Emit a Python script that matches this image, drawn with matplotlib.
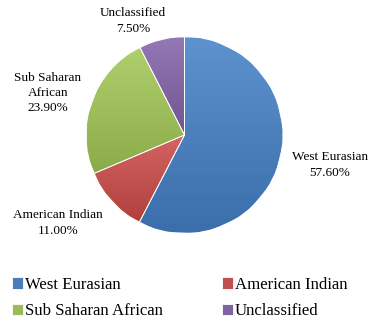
import matplotlib.pyplot as plt
import matplotlib.colors as mcolors
import numpy as np

groups = ['West Eurasian', 'American Indian', 'Sub Saharan African', 'Unclassified']
shares = [57.6, 11.0, 23.9, 7.5]
label_text = ['West Eurasian\n57.60%', 'American Indian\n11.00%',
              'Sub Saharan\nAfrican\n23.90%', 'Unclassified\n7.50%']
colors = ['#4a7ebb', '#c0504d', '#9bbb59', '#8064a2']

plt.rcParams['font.family'] = ['Liberation Serif', 'DejaVu Serif']

W, H = 373, 327
fig = plt.figure(figsize=(W / 100, H / 100), dpi=100)
ax = fig.add_axes([0, 0, 1, 1])

cx, cy, r = 184.5, H - 135, 98
wedges, _ = ax.pie(shares, colors=colors, startangle=90, counterclock=False,
                   center=(cx, cy), radius=r, frame=True,
                   wedgeprops=dict(edgecolor='white', linewidth=0.6))
ax.set_xlim(0, W)
ax.set_ylim(0, H)
ax.set_aspect('equal')
ax.axis('off')

# soft vertical gradient inside each slice, lighter at the top
for w, c in zip(wedges, colors):
    base = np.array(mcolors.to_rgb(c))
    light = np.clip(base + 0.08, 0, 1)
    dark = np.clip(base - 0.06, 0, 1)
    t = np.linspace(0, 1, 64)[:, None]
    grad = light * (1 - t) + dark * t
    img = np.repeat(grad[:, None, :], 2, axis=1)
    ext = w.get_path().get_extents(w.get_patch_transform())
    im = ax.imshow(img, extent=(ext.x0, ext.x1, ext.y0, ext.y1), origin='upper',
                   aspect='auto', zorder=w.get_zorder() + 0.1)
    im.set_clip_path(w)
ax.set_xlim(0, W)
ax.set_ylim(0, H)

# edge lines between slices
for w in wedges:
    ax.add_patch(plt.Polygon(w.get_path().transformed(w.get_patch_transform()).vertices,
                             closed=True, fill=False, edgecolor='white', linewidth=0.6,
                             zorder=5))

label_pos = [(330, H - 165), (58, H - 223), (48, H - 93), (133, H - 21)]
for txt, (x, y) in zip(label_text, label_pos):
    ax.text(x, y, txt, ha='center', va='center', fontsize=9.5, linespacing=1.35)

# legend fills column by column, so reorder to get row-wise layout
order = [0, 2, 1, 3]
fig.legend([wedges[i] for i in order], [groups[i] for i in order],
           loc='upper left', bbox_to_anchor=(12 / W, 1 - 277 / H), ncol=2,
           frameon=False, fontsize=12.1, handlelength=0.65, handleheight=0.65,
           handletextpad=0.12, columnspacing=3.5, labelspacing=0.62,
           borderpad=0, borderaxespad=0)

fig.savefig('out.png', dpi=100)
